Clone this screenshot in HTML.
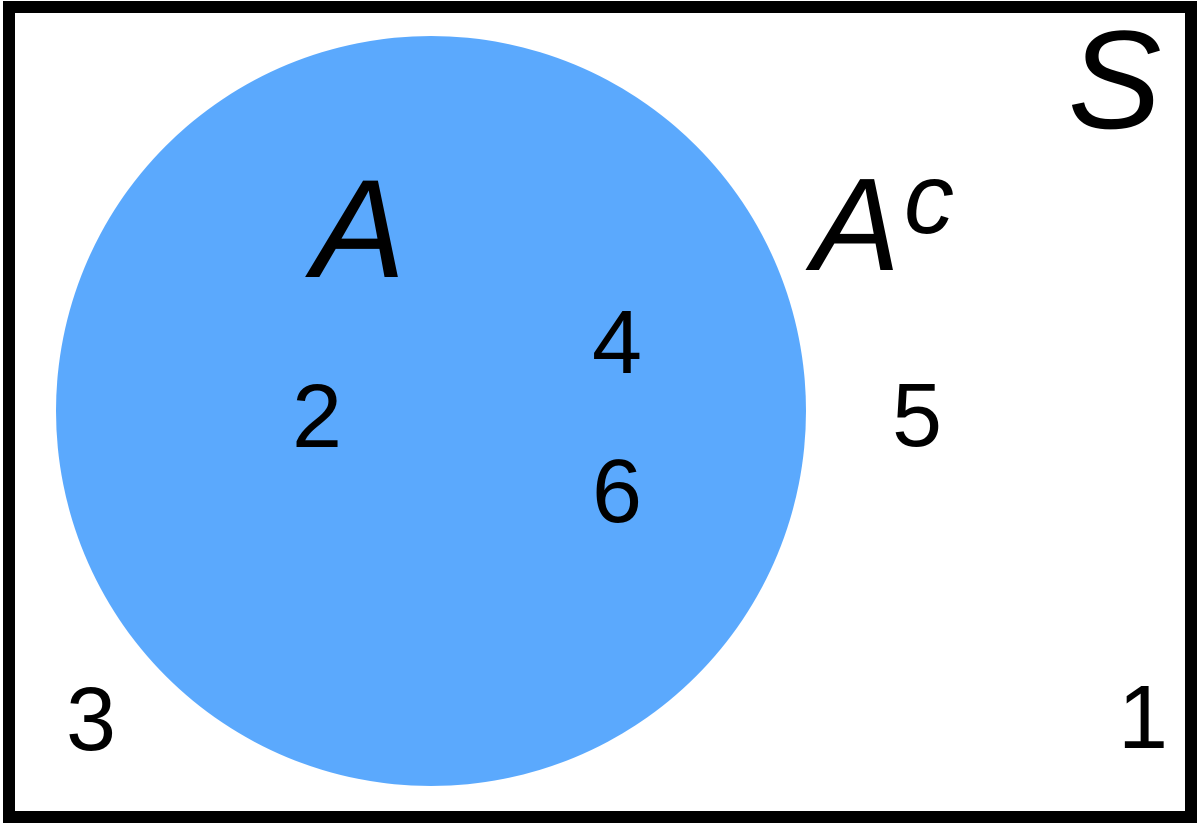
<!DOCTYPE html>
<html><head><meta charset="utf-8"><style>
html,body{margin:0;padding:0;background:#fff;width:1200px;height:825px;overflow:hidden}
svg text{font-family:"Liberation Sans",sans-serif;fill:#000}
</style></head><body>
<svg width="1200" height="825" viewBox="0 0 1200 825" xmlns="http://www.w3.org/2000/svg">
<rect x="0" y="0" width="1200" height="825" fill="#fff"/>
<rect x="9" y="7" width="1182" height="810" fill="none" stroke="#000" stroke-width="12"/>
<circle cx="431" cy="411" r="375" fill="#5BA9FD"/>
<text x="1068" y="128" font-size="140" font-style="italic">S</text>
<text x="312" y="277" font-size="140" font-style="italic">A</text>
<text x="812" y="270" font-size="132" font-style="italic">A</text>
<text x="904" y="233" font-size="100" font-style="italic">c</text>
<text x="592" y="373" font-size="90">4</text>
<text x="292" y="447" font-size="90">2</text>
<text x="592" y="522" font-size="90">6</text>
<text x="892" y="446" font-size="90">5</text>
<text x="66" y="750" font-size="90">3</text>
<text x="1118" y="748" font-size="90">1</text>
</svg>
</body></html>
